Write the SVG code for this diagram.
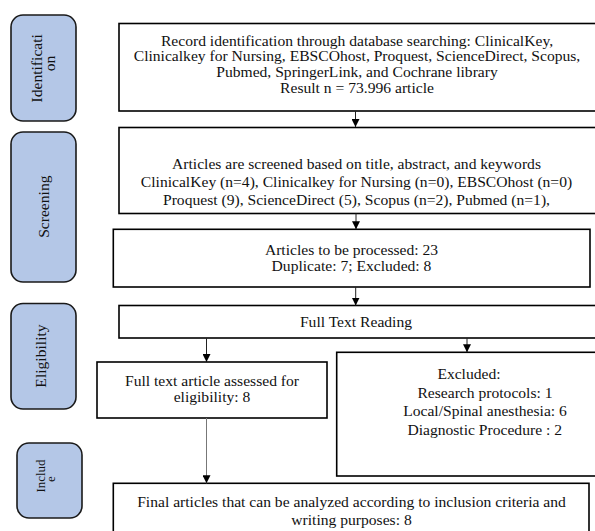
<svg xmlns="http://www.w3.org/2000/svg" width="595" height="531" viewBox="0 0 595 531">
<style>
  .bg { fill: #ffffff; }
  .stage rect { fill: #b4c7e7; stroke: #1a1a1a; stroke-width: 1.6; }
  .box rect { fill: #ffffff; stroke: #000000; stroke-width: 1.6; }
  text { font-family: "Liberation Serif", "Times New Roman", serif; font-size: 15.6px; fill: #111111; }
  .c { text-anchor: middle; }
  .small { font-size: 13px; }
  .conn line { stroke: #222222; stroke-width: 1; }
  .conn line.grey { stroke: #777777; }
</style>
<defs>
  <marker id="ah" viewBox="0 0 10 10" refX="10" refY="5" markerWidth="8" markerHeight="8" markerUnits="userSpaceOnUse" orient="auto">
    <path d="M0,0 L10,5 L0,10 z" fill="#000000"/>
  </marker>
</defs>
<rect class="bg" x="0" y="0" width="595" height="531"/>

<!-- stage labels -->
<g id="stage-identification" class="stage">
  <rect x="11" y="15" width="65" height="106" rx="12" ry="12"/>
  <text class="c" transform="translate(41.7,68.3) rotate(-90)">Identificati</text>
  <text class="c" transform="translate(55,63.5) rotate(-90)">on</text>
</g>
<g id="stage-screening" class="stage">
  <rect x="11" y="132" width="65" height="150" rx="12" ry="12"/>
  <text class="c" transform="translate(48.8,206.7) rotate(-90)">Screening</text>
</g>
<g id="stage-eligibility" class="stage">
  <rect x="11" y="303.5" width="65" height="105.5" rx="12" ry="12"/>
  <text class="c" transform="translate(45.8,356) rotate(-90)">Eligibility</text>
</g>
<g id="stage-include" class="stage">
  <rect x="17" y="443" width="65" height="75" rx="12" ry="12"/>
  <text class="c small" transform="translate(45,476) rotate(-90)">Includ</text>
  <text class="c small" transform="translate(55,479) rotate(-90)">e</text>
</g>

<!-- process boxes -->
<g id="box-identification" class="box">
  <rect x="119" y="23.5" width="480" height="87.5"/>
  <text class="c" x="357" y="45.6">Record identification through database searching: ClinicalKey,</text>
  <text class="c" x="357" y="61.3">Clinicalkey for Nursing, EBSCOhost, Proquest, ScienceDirect, Scopus,</text>
  <text class="c" x="357" y="77">Pubmed, SpringerLink, and Cochrane library</text>
  <text class="c" x="357" y="92.7">Result n = 73.996 article</text>
</g>
<g id="box-screening" class="box">
  <rect x="119" y="127.5" width="480" height="86"/>
  <text class="c" x="356.5" y="169.3">Articles are screened based on title, abstract, and keywords</text>
  <text class="c" x="356.5" y="187.2">ClinicalKey (n=4), Clinicalkey for Nursing (n=0), EBSCOhost (n=0)</text>
  <text class="c" x="356.5" y="205.2">Proquest (9), ScienceDirect (5), Scopus (n=2), Pubmed (n=1),</text>
</g>
<g id="box-processed" class="box">
  <rect x="113.3" y="229.3" width="476.7" height="57.7"/>
  <text class="c" x="351.5" y="255">Articles to be processed: 23</text>
  <text class="c" x="351.5" y="270.7">Duplicate: 7; Excluded: 8</text>
</g>
<g id="box-fulltext" class="box">
  <rect x="119" y="305.5" width="480" height="32.5"/>
  <text class="c" x="356" y="326.7">Full Text Reading</text>
</g>
<g id="box-assessed" class="box">
  <rect x="97" y="362" width="230" height="56"/>
  <text class="c" x="212" y="385.8">Full text article assessed for</text>
  <text class="c" x="212" y="402.3">eligibility: 8</text>
</g>
<g id="box-excluded" class="box">
  <rect x="336.7" y="352.3" width="262" height="123.7"/>
  <text class="c" x="469" y="379.3">Excluded:</text>
  <text class="c" x="485" y="397.5">Research protocols: 1</text>
  <text class="c" x="485" y="416">Local/Spinal anesthesia: 6</text>
  <text class="c" x="484.7" y="434.7">Diagnostic Procedure : 2</text>
</g>
<g id="box-final" class="box">
  <rect x="113.3" y="483.3" width="475.7" height="60"/>
  <text class="c" x="351.5" y="507.3">Final articles that can be analyzed according to inclusion criteria and</text>
  <text class="c" x="351.5" y="525">writing purposes: 8</text>
</g>

<!-- connectors -->
<g id="connectors" class="conn">
  <line x1="355.5" y1="111" x2="355.5" y2="127" marker-end="url(#ah)"/>
  <line x1="356" y1="213.5" x2="356" y2="229.3" marker-end="url(#ah)"/>
  <line x1="355.7" y1="287" x2="355.7" y2="305.5" marker-end="url(#ah)"/>
  <line x1="206.5" y1="338" x2="206.5" y2="362" marker-end="url(#ah)"/>
  <line x1="467" y1="338" x2="467" y2="352.3" marker-end="url(#ah)"/>
  <line class="grey" x1="206.5" y1="418" x2="206.5" y2="483.3" marker-end="url(#ah)"/>
</g>
</svg>
